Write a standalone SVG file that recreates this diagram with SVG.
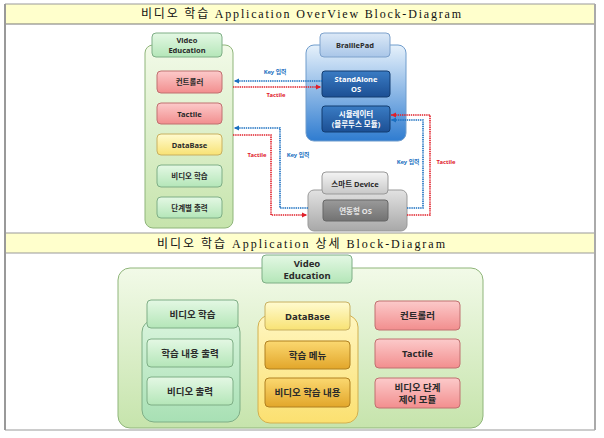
<svg xmlns="http://www.w3.org/2000/svg" width="604" height="438" viewBox="0 0 604 438">
<defs>
<linearGradient id="gGreen" x1="0" y1="0" x2="0" y2="1"><stop offset="0" stop-color="#e4f8e4"/><stop offset="1" stop-color="#b4e6b8"/></linearGradient>
<linearGradient id="gCont" x1="0" y1="0" x2="0" y2="1"><stop offset="0" stop-color="#f2fae8"/><stop offset="1" stop-color="#c6e4ac"/></linearGradient>
<linearGradient id="gSub" x1="0" y1="0" x2="0" y2="1"><stop offset="0" stop-color="#d8f4dc"/><stop offset="1" stop-color="#a8e0b4"/></linearGradient>
<linearGradient id="gRed" x1="0" y1="0" x2="0" y2="1"><stop offset="0" stop-color="#fccaca"/><stop offset="1" stop-color="#f28e8e"/></linearGradient>
<linearGradient id="gYel" x1="0" y1="0" x2="0" y2="1"><stop offset="0" stop-color="#fffbd0"/><stop offset="1" stop-color="#f8e274"/></linearGradient>
<linearGradient id="gYCont" x1="0" y1="0" x2="0" y2="1"><stop offset="0" stop-color="#fff6c0"/><stop offset="1" stop-color="#fbe070"/></linearGradient>
<linearGradient id="gOra" x1="0" y1="0" x2="0" y2="1"><stop offset="0" stop-color="#fbd870"/><stop offset="1" stop-color="#e2a62a"/></linearGradient>
<linearGradient id="gBlueC" x1="0" y1="0" x2="0" y2="1"><stop offset="0" stop-color="#e6f1fb"/><stop offset="1" stop-color="#2f7cd0"/></linearGradient>
<linearGradient id="gBlueT" x1="0" y1="0" x2="0" y2="1"><stop offset="0" stop-color="#dce9f7"/><stop offset="1" stop-color="#a9c6e8"/></linearGradient>
<linearGradient id="gBlueB" x1="0" y1="0" x2="0" y2="1"><stop offset="0" stop-color="#3a7cc4"/><stop offset="1" stop-color="#1c4f94"/></linearGradient>
<linearGradient id="gGrayT" x1="0" y1="0" x2="0" y2="1"><stop offset="0" stop-color="#f4f4f4"/><stop offset="1" stop-color="#c8c8c8"/></linearGradient>
<linearGradient id="gGrayC" x1="0" y1="0" x2="0" y2="1"><stop offset="0" stop-color="#e2e2e2"/><stop offset="1" stop-color="#a8a8a8"/></linearGradient>
<linearGradient id="gGrayB" x1="0" y1="0" x2="0" y2="1"><stop offset="0" stop-color="#9a9a9a"/><stop offset="1" stop-color="#727272"/></linearGradient>
<marker id="arB" markerWidth="6" markerHeight="6" refX="5" refY="3" orient="auto" markerUnits="userSpaceOnUse"><path d="M0,0.5 L5,3 L0,5.5 Z" fill="#1a6fc0"/></marker>
<marker id="arR" markerWidth="6" markerHeight="6" refX="5" refY="3" orient="auto" markerUnits="userSpaceOnUse"><path d="M0,0.5 L5,3 L0,5.5 Z" fill="#e0202a"/></marker>
</defs>
<style>
.title{font-family:"Liberation Serif","Noto Sans CJK KR",serif;font-size:12px;fill:#111;text-anchor:middle}
.t{font-family:"Noto Sans","Noto Sans CJK KR",sans-serif;font-weight:bold;font-size:7.5px;fill:#2a2a2a;text-anchor:middle}
.tb{font-family:"Noto Sans","Noto Sans CJK KR",sans-serif;font-weight:bold;font-size:9.5px;fill:#2a2a2a;text-anchor:middle}
.tw{fill:#fff}
.tg{fill:#e8e8e8}
.lab{font-family:"Noto Sans","Noto Sans CJK KR",sans-serif;font-weight:bold;font-size:5.8px;text-anchor:middle}
.blue{fill:#1a6fc0}
.red{fill:#e0202a}
.bl{fill:none;stroke:#1a6fc0;stroke-width:1.6;stroke-dasharray:1.4 0.8}
.rl{fill:none;stroke:#e0202a;stroke-width:1.6;stroke-dasharray:1.4 0.8}
.grn{fill:url(#gGreen);stroke:#7fae86;stroke-width:1}
.cont{fill:url(#gCont);stroke:#8fb57a;stroke-width:1}
.sub{fill:url(#gSub);stroke:#7fae86;stroke-width:1}
.redb{fill:url(#gRed);stroke:#c07070;stroke-width:1}
.yel{fill:url(#gYel);stroke:#c8b060;stroke-width:1}
.ycont{fill:url(#gYCont);stroke:#d2b050;stroke-width:1}
.ora{fill:url(#gOra);stroke:#b08020;stroke-width:1}
</style>
<rect x="0" y="0" width="604" height="438" fill="#fff"/>
<g id="frame">
<rect x="5" y="4" width="590" height="20" fill="#ffffcc"/>
<rect x="5" y="233" width="590" height="20" fill="#ffffcc"/>
<line x1="5" y1="4" x2="595" y2="4" stroke="#999" stroke-width="1.2"/>
<line x1="5" y1="24" x2="595" y2="24" stroke="#777" stroke-width="1"/>
<line x1="5" y1="233" x2="595" y2="233" stroke="#999" stroke-width="1"/>
<line x1="5" y1="253" x2="595" y2="253" stroke="#999" stroke-width="1"/>
<line x1="5" y1="430" x2="595" y2="430" stroke="#999" stroke-width="1.2"/>
<line x1="5" y1="4" x2="5" y2="430" stroke="#999" stroke-width="2"/>
<line x1="595" y1="4" x2="595" y2="430" stroke="#aaa" stroke-width="2"/>
<text class="title" x="301" y="18" textLength="320" lengthAdjust="spacing">비디오 학습 Application OverView Block-Diagram</text>
<text class="title" x="301" y="247.5" textLength="288" lengthAdjust="spacing">비디오 학습 Application 상세 Block-Diagram</text>
</g>
<g id="ve-top">
<rect class="cont" x="145" y="45" width="88" height="183" rx="8"/>
<rect class="grn" x="152" y="33" width="70" height="24" rx="4"/>
<text class="t" x="187" y="43">Video</text>
<text class="t" x="187" y="53">Education</text>
</g>
<g id="ctrl-top"><rect class="redb" x="157" y="71" width="65" height="22" rx="4"/><text class="t" x="189.5" y="85">컨트롤러</text></g>
<g id="tactile-top"><rect class="redb" x="157" y="103" width="65" height="21" rx="4"/><text class="t" x="189.5" y="116.5">Tactile</text></g>
<g id="db-top"><rect class="yel" x="157" y="134" width="65" height="21" rx="4"/><text class="t" x="189.5" y="147.5">DataBase</text></g>
<g id="video-top"><rect class="grn" x="157" y="165" width="65" height="22" rx="4"/><text class="t" x="189.5" y="179">비디오 학습</text></g>
<g id="step-top"><rect class="grn" x="157" y="197" width="65" height="21" rx="4"/><text class="t" x="189.5" y="210.5">단계별 출력</text></g>
<g id="braillepad">
<rect x="306" y="45" width="100" height="96" rx="8" fill="url(#gBlueC)" stroke="#6f9ccc"/>
<rect x="320" y="33" width="70" height="24" rx="4" fill="url(#gBlueT)" stroke="#7ea2cc"/>
<text class="t" x="355" y="48">BraillePad</text>
</g>
<g id="standalone"><rect x="322" y="71" width="68" height="26" rx="3" fill="url(#gBlueB)" stroke="#123c70"/><text class="t tw" x="356" y="82">StandAlone</text><text class="t tw" x="356" y="92">OS</text></g>
<g id="simulator"><rect x="322" y="106" width="68" height="26" rx="3" fill="url(#gBlueB)" stroke="#123c70"/><text class="t tw" x="356" y="117">시뮬레이터</text><text class="t tw" x="356" y="127">(블루투스 모듈)</text></g>
<g id="smart">
<rect x="308" y="190" width="99" height="41" rx="6" fill="url(#gGrayC)" stroke="#999"/>
<rect x="322" y="172" width="66" height="22" rx="4" fill="url(#gGrayT)" stroke="#999"/>
<text class="t" x="355" y="186.5">스마트 Device</text>
</g>
<g id="linkos"><rect x="323" y="200" width="65" height="21" rx="3" fill="url(#gGrayB)" stroke="#666"/><text class="t tg" x="355.5" y="213.5">연동형 OS</text></g>
<g id="connectors">
<path class="bl" d="M322,81 L234,81" marker-end="url(#arB)"/>
<path class="rl" d="M233,87 L321,87" marker-end="url(#arR)"/>
<path class="bl" d="M308,208 L280,208 L280,128 L234,128" marker-end="url(#arB)"/>
<path class="rl" d="M233,135 L271,135 L271,215 L307,215" marker-end="url(#arR)"/>
<path class="rl" d="M407,215 L430,215 L430,115 L391,115" marker-end="url(#arR)"/>
<path class="bl" d="M407,208 L423,208 L423,120 L391,120" marker-end="url(#arB)"/>
<text class="lab blue" x="275" y="74">Key 입력</text>
<text class="lab red" x="276" y="97">Tactile</text>
<text class="lab red" x="257" y="157">Tactile</text>
<text class="lab blue" x="298" y="157">Key 입력</text>
<text class="lab blue" x="408" y="164">Key 입력</text>
<text class="lab red" x="446" y="164">Tactile</text>
</g>
<g id="ve-bottom">
<rect class="cont" x="118" y="268" width="365" height="160" rx="12"/>
<rect class="grn" x="262" y="255" width="90" height="28" rx="4"/>
<text class="tb" x="307" y="267">Video</text>
<text class="tb" x="307" y="279">Education</text>
</g>
<g id="video-group">
<rect class="sub" x="142" y="320" width="98" height="102" rx="12"/>
<rect class="grn" x="147" y="300" width="91" height="28" rx="4"/>
<text class="tb" x="192.5" y="317.5">비디오 학습</text>
</g>
<g id="content-out"><rect class="grn" x="147" y="339" width="86" height="28" rx="4"/><text class="tb" x="190" y="356.5">학습 내용 출력</text></g>
<g id="video-out"><rect class="grn" x="147" y="377" width="86" height="28" rx="4"/><text class="tb" x="190" y="394.5">비디오 출력</text></g>
<g id="db-group">
<rect class="ycont" x="258" y="315" width="100" height="108" rx="12"/>
<rect class="yel" x="265" y="302" width="85" height="28" rx="4"/>
<text class="tb" x="307.5" y="319.5">DataBase</text>
</g>
<g id="menu"><rect class="ora" x="265" y="341" width="85" height="28" rx="4"/><text class="tb" x="307.5" y="358.5">학습 메뉴</text></g>
<g id="content"><rect class="ora" x="265" y="378" width="85" height="29" rx="4"/><text class="tb" x="307.5" y="396">비디오 학습 내용</text></g>
<g id="ctrl-bottom"><rect class="redb" x="375" y="301" width="85" height="29" rx="4"/><text class="tb" x="417.5" y="319">컨트롤러</text></g>
<g id="tactile-bottom"><rect class="redb" x="375" y="339" width="85" height="29" rx="4"/><text class="tb" x="417.5" y="357">Tactile</text></g>
<g id="stepctrl"><rect class="redb" x="375" y="378" width="85" height="30" rx="4"/><text class="tb" x="417.5" y="391">비디오 단계</text><text class="tb" x="417.5" y="403">제어 모듈</text></g>
</svg>
